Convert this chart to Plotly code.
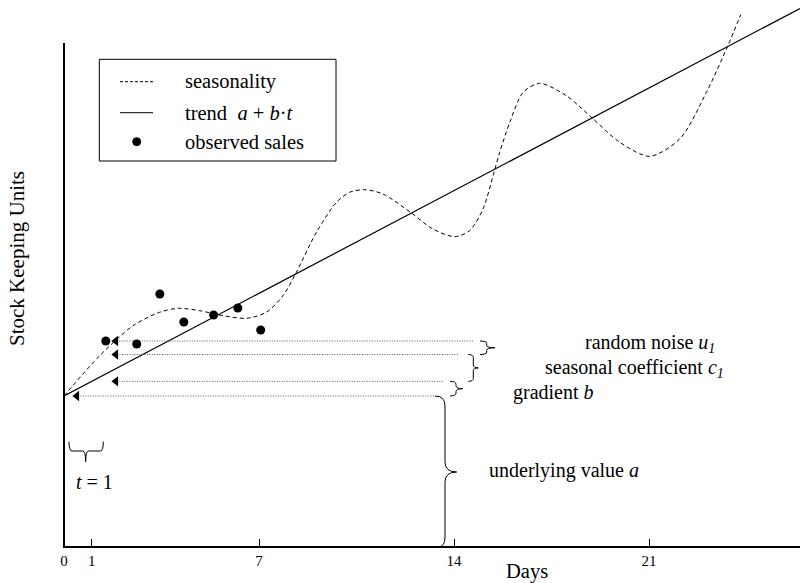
import plotly.graph_objects as go

# ---------------- data ----------------
tick_days = [0, 1, 7, 14, 21]
tick_text = ["0", "1", "7", "14", "21"]

obs_days = [1.50, 2.61, 3.44, 4.30, 5.37, 6.24, 7.06]
obs_sku = [20.5, 20.2, 25.2, 22.4, 23.1, 23.8, 21.6]

season_days = [0, 1.28, 2.48, 3.43, 4.09, 4.87, 5.71, 6.55, 7.26, 7.86, 8.34,
               9.06, 9.78, 10.25, 10.79, 11.45, 12.47, 13.24, 14.02, 14.56,
               15.04, 15.46, 15.64, 16.0, 16.48, 17.07, 18.03, 18.93, 19.95,
               21.02, 22.1, 23.06, 23.84, 24.29]
season_sku = [15.0, 19.03, 22.03, 23.37, 23.77, 23.53, 23.03, 22.77, 23.37,
              25.03, 27.37, 31.37, 34.37, 35.37, 35.63, 35.2, 33.3, 31.7,
              30.93, 31.53, 33.7, 37.63, 39.37, 42.37, 45.37, 46.27, 45.03,
              42.87, 40.37, 38.97, 40.7, 45.37, 50.1, 53.13]

trend_a = 15.0
trend_b = 1.467
seasonal_day1 = 19.15

arrow_levels = [obs_sku[0], seasonal_day1, trend_a + trend_b, trend_a]
arrow_tips = [1.70, 1.70, 1.70, 0.30]
arrow_ends = [14.69, 14.15, 13.61, 13.32]

# ---------------- geometry helpers ----------------
XL, PW, PH = 64, 736, 546
DPX, SPX = 27.86, 10.0
X_MAX = PW / DPX
Y_MAX = PH / SPX
FONT = "Liberation Serif"


def dx(px):
    return (px - XL) / DPX


def sy(py):
    return (PH - py) / SPX


def xp(px):
    return (px - XL) / PW


def yp(py):
    return (PH - py) / PH


def P(px, py):
    return f"{dx(px):.4f},{sy(py):.4f}"


def brace_right(x0, x1, x2, yt, yb, r, x0b=None, ym=None):
    if x0b is None:
        x0b = x0
    if ym is None:
        ym = (yt + yb) / 2
    return (f"M{P(x0, yt)} Q{P(x1, yt)} {P(x1, yt + r)} L{P(x1, ym - r)} "
            f"Q{P(x1, ym)} {P(x2, ym)} Q{P(x1, ym)} {P(x1, ym + r)} "
            f"L{P(x1, yb - r)} Q{P(x1, yb)} {P(x0b, yb)}")


def brace_down(x0, x1, xc, yt, yh, yc, r):
    return (f"M{P(x0, yt)} Q{P(x0, yh)} {P(x0 + r, yh)} L{P(xc - r, yh)} "
            f"Q{P(xc, yh)} {P(xc, yc)} Q{P(xc, yh)} {P(xc + r, yh)} "
            f"L{P(x1 - r, yh)} Q{P(x1, yh)} {P(x1, yt)}")


def py_of(sku):
    return PH - sku * SPX


fig = go.Figure()

# seasonality
fig.add_trace(go.Scatter(x=season_days, y=season_sku, mode="lines",
                         line=dict(color="black", width=1, dash="4px,3px",
                                   shape="spline", smoothing=0.8),
                         showlegend=False, hoverinfo="skip"))
# trend
trend_x = [0, X_MAX]
trend_y = [trend_a + trend_b * v for v in trend_x]
fig.add_trace(go.Scatter(x=trend_x, y=trend_y, mode="lines",
                         line=dict(color="black", width=1.2),
                         showlegend=False, hoverinfo="skip"))

# dotted arrow lines
for lvl, tip, end in zip(arrow_levels, arrow_tips, arrow_ends):
    fig.add_trace(go.Scatter(x=[tip + 8 / DPX, end], y=[lvl, lvl], mode="lines",
                             line=dict(color="#555555", width=1, dash="1px,1.5px"),
                             showlegend=False, hoverinfo="skip"))
# arrowheads
fig.add_trace(go.Scatter(x=[t + 4.5 / DPX for t in arrow_tips], y=arrow_levels,
                         mode="markers",
                         marker=dict(symbol="triangle-left", size=9, color="black",
                                     line=dict(width=0)),
                         showlegend=False, hoverinfo="skip"))

# observed sales
fig.add_trace(go.Scatter(x=obs_days, y=obs_sku, mode="markers",
                         marker=dict(color="black", size=9),
                         showlegend=False, hoverinfo="skip"))

shapes = []
# y axis line
shapes.append(dict(type="line", xref="paper", yref="paper", x0=0, x1=0,
                   y0=yp(548), y1=yp(43), line=dict(color="black", width=2)))

# small braces between arrow levels
lv = [py_of(v) for v in arrow_levels]
shapes.append(dict(type="path", path=brace_right(480, 486.7, 495, lv[0], lv[1], 2.5),
                   line=dict(color="black", width=1)))
shapes.append(dict(type="path", path=brace_right(468.3, 473.3, 478.3, lv[1], lv[2], 3),
                   line=dict(color="black", width=1)))
shapes.append(dict(type="path", path=brace_right(450, 456, 462.7, lv[2], lv[3], 3),
                   line=dict(color="black", width=1)))
# big brace for underlying value
shapes.append(dict(type="path",
                   path=brace_right(435, 445, 456.7, lv[3], 547, 10, x0b=438, ym=472),
                   line=dict(color="black", width=1)))
# t = 1 brace
shapes.append(dict(type="path", path=brace_down(69, 103.3, 85.7, 441.7, 451, 461.7, 3),
                   line=dict(color="black", width=1)))

# manual legend
shapes.append(dict(type="rect", xref="paper", yref="paper",
                   x0=xp(99.3), x1=xp(336), y0=yp(161), y1=yp(59.3),
                   line=dict(color="black", width=1), fillcolor="white", layer="below"))
shapes.append(dict(type="line", xref="paper", yref="paper", x0=xp(120), x1=xp(153),
                   y0=yp(81.7), y1=yp(81.7),
                   line=dict(color="black", width=1, dash="3px,2px")))
shapes.append(dict(type="line", xref="paper", yref="paper", x0=xp(120), x1=xp(153),
                   y0=yp(112.7), y1=yp(112.7), line=dict(color="black", width=1)))
shapes.append(dict(type="circle", xref="paper", yref="paper",
                   x0=xp(132.7), x1=xp(140.7), y0=yp(145.7), y1=yp(137.7),
                   fillcolor="black", line=dict(color="black", width=1)))

legend_texts = ["seasonality", "trend\u00a0 <i>a</i> + <i>b</i>\u00b7<i>t</i>", "observed sales"]
legend_y = [81.7, 112.7, 141.7]
for t, y in zip(legend_texts, legend_y):
    fig.add_annotation(xref="paper", yref="paper", x=xp(183), y=yp(y), text=t,
                       showarrow=False, xanchor="left", yanchor="middle",
                       font=dict(size=20.5))

# text labels
labels = [
    ("random noise <i>u</i><sub><i>1</i></sub>", 583, 343),
    ("seasonal coefficient <i>c</i><sub><i>1</i></sub>", 543.3, 368),
    ("gradient <i>b</i>", 511, 392),
    ("underlying value <i>a</i>", 486.7, 470),
]
for t, px, py in labels:
    fig.add_annotation(x=dx(px), y=sy(py), text=t, showarrow=False,
                       xanchor="left", yanchor="middle", font=dict(size=20))
fig.add_annotation(x=dx(94), y=sy(482), text="<i>t</i> = 1", showarrow=False,
                   xanchor="center", yanchor="middle", font=dict(size=20))

# axis titles
fig.add_annotation(xref="paper", yref="paper", x=xp(17), y=yp(259),
                   text="Stock Keeping Units", textangle=-90, showarrow=False,
                   xanchor="center", yanchor="middle", font=dict(size=21))
fig.add_annotation(xref="paper", yref="paper", x=xp(527), y=yp(571),
                   text="Days", showarrow=False, xanchor="center",
                   yanchor="middle", font=dict(size=20.5))

fig.update_layout(
    width=800, height=583,
    margin=dict(l=XL, r=0, t=0, b=583 - PH),
    plot_bgcolor="white", paper_bgcolor="white",
    showlegend=False,
    font=dict(family=FONT, size=20, color="black"),
    shapes=shapes,
    xaxis=dict(range=[0, X_MAX], showline=True, linewidth=2, linecolor="black",
               ticks="inside", ticklen=7, tickwidth=1, tickcolor="black",
               tickvals=tick_days, ticktext=tick_text, tickfont=dict(size=15),
               showgrid=False, zeroline=False, fixedrange=True),
    yaxis=dict(range=[0, Y_MAX], visible=False, showgrid=False, zeroline=False,
               fixedrange=True),
)

fig.write_html("out.html",
               config={"displayModeBar": False, "staticPlot": True},
               post_script="document.body.style.margin='0px';"
                           "document.body.style.overflow='hidden';")
